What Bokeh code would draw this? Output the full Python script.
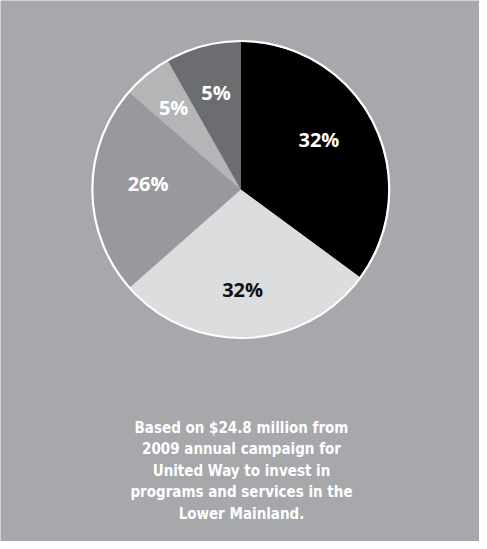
import numpy as np
from bokeh.plotting import figure
from bokeh.models import Range1d, ColumnDataSource
from bokeh.core.properties import value
from bokeh.embed import file_html
from bokeh.resources import INLINE

# Slices clockwise from 12 o'clock (shares as drawn) and their printed labels
shares = [35.1, 28.4, 22.9, 5.4, 8.2]
labels = ["32%", "32%", "26%", "5%", "5%"]
colors = ["#000000", "#dcdddf", "#98999c", "#b4b5b7", "#6c6d70"]
label_colors = ["#ffffff", "#111111", "#ffffff", "#ffffff", "#ffffff"]
caption = [
    "Based on $24.8 million from",
    "2009 annual campaign for",
    "United Way to invest in",
    "programs and services in the",
    "Lower Mainland.",
]

W, H = 479, 541
BG = "#a7a8ab"
cx, cy, R = 240.3, 352.0, 147.5

p = figure(width=W, height=H, output_backend="svg", toolbar_location=None,
           x_range=Range1d(0, W), y_range=Range1d(0, H), min_border=0)
p.axis.visible = False
p.grid.visible = False
p.outline_line_color = None
p.background_fill_color = BG
p.border_fill_color = BG

s = np.array(shares, dtype=float)
frac = s / s.sum()
cum = np.concatenate([[0.0], np.cumsum(frac)])
start_cw = cum[:-1] * 2 * np.pi
end_cw = cum[1:] * 2 * np.pi
start = np.pi / 2 - start_cw
end = np.pi / 2 - end_cw

src = ColumnDataSource(dict(x=[cx] * len(s), y=[cy] * len(s), start=start, end=end, color=colors))
p.wedge(x="x", y="y", radius=R, start_angle="start", end_angle="end", direction="clock",
        fill_color="color", line_color=None, source=src)
p.circle(x=[cx], y=[cy], radius=R + 1, fill_color=None, line_color="white", line_width=2.2)

# label placement (style)
shift_deg = np.array([-6.0, 1.5, 4.0, 0.0, 0.5])
rfac = np.array([0.63, 0.68, 0.63, 0.72, 0.68])
mid_cw = (start_cw + end_cw) / 2 + np.deg2rad(shift_deg)
lx = cx + R * rfac * np.sin(mid_cw)
ly = cy + R * rfac * np.cos(mid_cw)
lsrc = ColumnDataSource(dict(x=lx, y=ly, t=labels, c=label_colors))
p.text(x="x", y="y", text="t", text_color="c", source=lsrc, text_align="center",
       text_baseline="middle", text_font=value("Open Sans"), text_font_style="bold",
       text_font_size="20px")

cap_y = 549 - np.array([435, 456.5, 478, 499.5, 521.0])
csrc = ColumnDataSource(dict(x=[241.0] * len(caption), y=cap_y, t=caption))
p.text(x="x", y="y", text="t", source=csrc, text_align="center", text_baseline="middle",
       text_color="white", text_font=value("Liberation Sans Narrow, DejaVu Sans Condensed"),
       text_font_style="bold", text_font_size="15px")

open("out.html", "w").write(file_html(p, INLINE))
